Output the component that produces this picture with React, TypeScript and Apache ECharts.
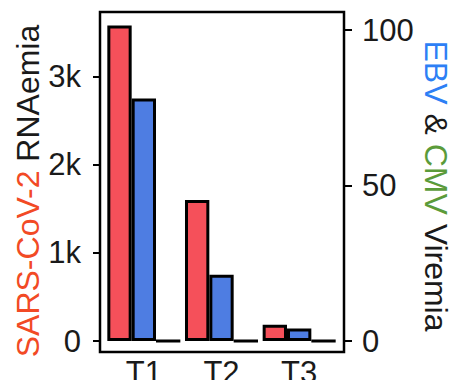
import React, { useEffect, useRef } from "react";
import * as echarts from "echarts";

const categories = ["T1", "T2", "T3"];
const sarsValues = [3580, 1600, 185];
const ebvValues = [78, 21.3, 4];
const cmvValues = [0, 0, 0];
const leftTicks = [0, 1000, 2000, 3000];
const rightTicks = [0, 50, 100];

const FONT = "'Liberation Sans', Arial, Helvetica, sans-serif";

export default function App() {
  const ref = useRef<HTMLDivElement>(null);
  useEffect(() => {
    if (!ref.current) return;
    const chart = echarts.init(ref.current, null, { renderer: "svg" });
    const barStyle = (color: string) => ({
      color,
      borderColor: "#000",
      borderWidth: 3,
    });
    chart.setOption({
      animation: false,
      grid: { left: 105, right: 121, top: 30, bottom: 42.5 },
      xAxis: {
        type: "category",
        data: categories,
        axisLine: { show: false },
        axisTick: { show: false },
        axisLabel: { fontSize: 31, color: "#1a1a1a", fontFamily: FONT, margin: 16 },
      },
      yAxis: [
        {
          type: "value",
          min: 0,
          max: 3530,
          offset: 5,
          position: "left",
          splitLine: { show: false },
          axisLine: { show: false },
          axisTick: { show: true, length: 7, lineStyle: { color: "#000", width: 2 }, customValues: leftTicks },
          axisLabel: {
            customValues: leftTicks,
            fontSize: 31,
            color: "#1a1a1a",
            fontFamily: FONT,
            margin: 19,
            formatter: (v: number) => (v === 0 ? "0" : v / 1000 + "k"),
          },
        },
        {
          type: "value",
          min: 0,
          max: 100,
          interval: 50,
          offset: 6,
          position: "right",
          splitLine: { show: false },
          axisLine: { show: false },
          axisTick: { show: true, length: 8, lineStyle: { color: "#000", width: 2 }, customValues: rightTicks },
          axisLabel: { customValues: rightTicks, fontSize: 31, color: "#1a1a1a", fontFamily: FONT, margin: 18 },
        },
      ],
      series: [
        {
          name: "SARS-CoV-2",
          type: "bar",
          yAxisIndex: 0,
          data: sarsValues,
          barGap: "0%",
          barCategoryGap: "6%",
          clip: false,
          itemStyle: barStyle("#F5505A"),
        },
        {
          name: "EBV",
          type: "bar",
          yAxisIndex: 1,
          data: ebvValues,
          clip: false,
          itemStyle: barStyle("#4E7DE2"),
        },
        {
          name: "CMV",
          type: "bar",
          yAxisIndex: 1,
          data: cmvValues,
          clip: false,
          itemStyle: barStyle("#5A9A3A"),
        },
      ],
      graphic: [
        {
          type: "rect",
          shape: { x: 100, y: 12, width: 244, height: 340 },
          style: { fill: "none", stroke: "#000", lineWidth: 2.5 },
          silent: true,
          z: 10,
        },
        {
          type: "text",
          x: 28,
          y: 191,
          rotation: Math.PI / 2,
          style: {
            text: "{a|SARS-CoV-2 }{b|RNAemia}",
            align: "center",
            verticalAlign: "middle",
            rich: {
              a: { fill: "#F24A25", fontSize: 32, fontFamily: FONT },
              b: { fill: "#1a1a1a", fontSize: 32, fontFamily: FONT },
            },
          },
        },
        {
          type: "text",
          x: 436,
          y: 186,
          rotation: -Math.PI / 2,
          style: {
            text: "{a|EBV }{b|& }{c|CMV }{b|Viremia}",
            align: "center",
            verticalAlign: "middle",
            rich: {
              a: { fill: "#2D7FF5", fontSize: 32, fontFamily: FONT },
              b: { fill: "#1a1a1a", fontSize: 32, fontFamily: FONT },
              c: { fill: "#5B9B3A", fontSize: 32, fontFamily: FONT },
            },
          },
        },
      ],
    });
    return () => chart.dispose();
  }, []);
  return <div ref={ref} style={{ width: 459, height: 388, margin: -8 }} />;
}
